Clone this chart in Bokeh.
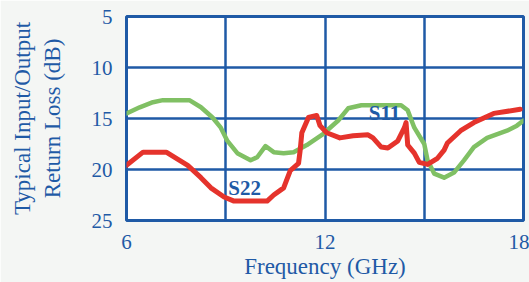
from bokeh.plotting import figure
from bokeh.models import Range1d, FixedTicker, Label
from bokeh.embed import file_html
from bokeh.resources import INLINE

# S11 (green) : frequency GHz, return loss dB
s11_f = [6.0, 6.4, 6.8, 7.1, 7.9, 8.25, 8.6, 8.85, 9.05, 9.35, 9.75, 9.95, 10.2, 10.45,
         10.75, 11.05, 11.45, 11.95, 12.4, 12.7, 13.1, 13.3, 14.3, 14.5, 14.7, 15.0, 15.1,
         15.3, 15.6, 15.9, 16.2, 16.5, 16.9, 17.5, 17.8, 18.0]
s11_db = [14.5, 13.9, 13.4, 13.2, 13.2, 13.9, 14.9, 15.9, 17.2, 18.4, 19.1, 18.8, 17.7, 18.3,
          18.4, 18.3, 17.6, 16.5, 15.2, 14.0, 13.7, 13.7, 13.7, 14.2, 15.9, 17.5, 19.1,
          20.4, 20.8, 20.3, 19.1, 17.8, 16.9, 16.2, 15.7, 15.2]

# S22 (red)
s22_f = [6.0, 6.5, 7.2, 7.85, 8.25, 8.55, 8.95, 9.25, 10.25, 10.45, 10.75, 10.95, 11.2, 11.25,
         11.3, 11.5, 11.75, 11.85, 12.05, 12.45, 12.85, 13.3, 13.45, 13.7, 13.9, 14.2, 14.4,
         14.45, 14.5, 14.7, 14.85, 15.1, 15.4, 15.6, 15.7, 16.1, 16.5, 17.1, 17.9]
s22_db = [19.6, 18.3, 18.3, 19.6, 20.8, 21.8, 22.7, 23.1, 23.1, 22.5, 21.8, 20.1, 19.4, 18.1,
          16.4, 14.9, 14.7, 15.7, 16.4, 16.9, 16.7, 16.6, 16.9, 17.8, 17.9, 17.2, 15.9,
          15.4, 17.6, 18.4, 19.3, 19.5, 18.9, 18.1, 17.4, 16.2, 15.4, 14.5, 14.1]

x_ticks = [6, 9, 12, 15, 18]
x_labels = {6: "6", 9: "", 12: "12", 15: "", 18: "18"}
y_ticks = [5, 10, 15, 20, 25]

BLUE = "#1f5aa6"
FONT = "Liberation Serif"

p = figure(width=529, height=282, output_backend="svg", toolbar_location=None,
           x_range=Range1d(6, 18), y_range=Range1d(25, 5),
           min_border_left=126, min_border_right=6, min_border_top=16, min_border_bottom=62)

p.background_fill_color = "#ffffff"
p.border_fill_color = "#f4f6f4"
p.outline_line_color = BLUE
p.outline_line_width = 3

p.line(s11_f, s11_db, line_color="#80c064", line_width=4.5, line_join="round", line_cap="round")
p.line(s22_f, s22_db, line_color="#e5332c", line_width=5, line_join="round", line_cap="round")

for ax in (p.xaxis[0], p.yaxis[0]):
    ax.axis_line_color = None
    ax.major_tick_line_color = None
    ax.minor_tick_line_color = None
    ax.major_label_text_font = FONT
    ax.major_label_text_font_size = "21px"
    ax.major_label_text_color = BLUE
    ax.axis_label_text_font = FONT
    ax.axis_label_text_font_size = "23px"
    ax.axis_label_text_font_style = "normal"
    ax.axis_label_text_color = BLUE

p.xaxis.ticker = FixedTicker(ticks=x_ticks)
p.xaxis.major_label_overrides = x_labels
p.xaxis.major_label_standoff = 8
p.xaxis.axis_label = "Frequency (GHz)"
p.xaxis.axis_label_standoff = 2

p.yaxis.ticker = FixedTicker(ticks=y_ticks)
p.yaxis.major_label_standoff = 8
p.yaxis.axis_label = "Typical Input/Output\nReturn Loss (dB)"
p.yaxis.axis_label_standoff = 24

p.xgrid.ticker = FixedTicker(ticks=x_ticks)
p.ygrid.ticker = FixedTicker(ticks=y_ticks)
for g in (p.xgrid[0], p.ygrid[0]):
    g.grid_line_color = BLUE
    g.grid_line_width = 2.5
    g.grid_line_alpha = 1

p.add_layout(Label(x=13.8, y=14.5, text="S11", text_font=FONT, text_font_size="21px",
                   text_font_style="bold", text_color=BLUE, text_align="center",
                   text_baseline="alphabetic"))
p.add_layout(Label(x=9.57, y=21.8, text="S22", text_font=FONT, text_font_size="21px",
                   text_font_style="bold", text_color=BLUE, text_align="center",
                   text_baseline="alphabetic"))

open("out.html", "w").write(file_html(p, INLINE))
